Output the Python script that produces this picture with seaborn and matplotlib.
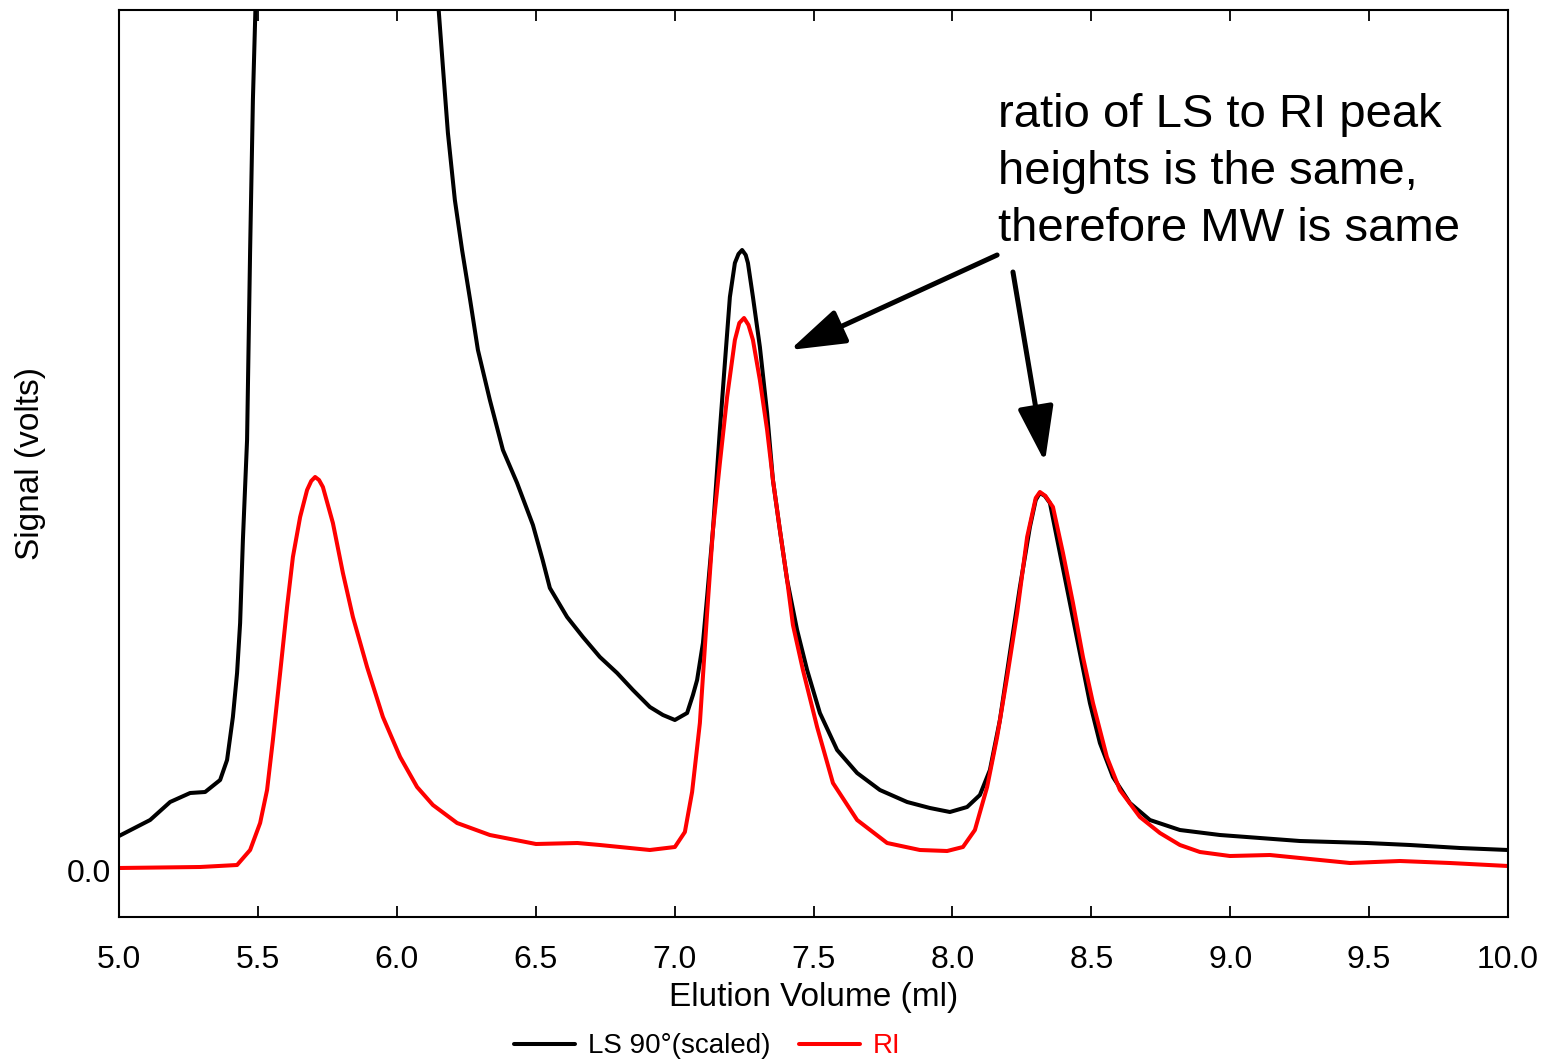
import matplotlib
matplotlib.use("Agg")
import matplotlib.pyplot as plt
from matplotlib.lines import Line2D
import seaborn as sns
import pandas as pd

# ---- data ----
ls_x = [5.000, 5.112, 5.184, 5.256, 5.310, 5.364, 5.389, 5.410, 5.425, 5.436,
        5.446, 5.461, 5.472, 5.482, 5.497, 5.600, 5.750, 5.950, 6.100, 6.140,
        6.166, 6.184, 6.209, 6.235, 6.264, 6.292, 6.335, 6.382, 6.433, 6.490,
        6.525, 6.551, 6.613, 6.670, 6.731, 6.793, 6.850, 6.911, 6.958, 7.001,
        7.045, 7.066, 7.081, 7.102, 7.117, 7.138, 7.163, 7.181, 7.199, 7.217,
        7.230, 7.243, 7.256, 7.264, 7.282, 7.307, 7.333, 7.354, 7.379, 7.405,
        7.441, 7.477, 7.523, 7.585, 7.657, 7.739, 7.837, 7.919, 7.991, 8.053,
        8.099, 8.135, 8.171, 8.207, 8.243, 8.279, 8.300, 8.315, 8.333, 8.351,
        8.387, 8.423, 8.459, 8.495, 8.531, 8.578, 8.639, 8.711, 8.819, 8.963,
        9.107, 9.251, 9.492, 9.647, 9.827, 10.000]
ls_y = [0.34, 0.50, 0.68, 0.77, 0.78, 0.90, 1.10, 1.53, 1.97, 2.47,
        3.30, 4.30, 6.20, 7.70, 9.20, 11.5, 12.5, 11.5, 9.8, 9.0,
        8.03, 7.37, 6.70, 6.20, 5.70, 5.20, 4.70, 4.20, 3.87, 3.45,
        3.10, 2.82, 2.53, 2.33, 2.13, 1.97, 1.80, 1.63, 1.55, 1.50,
        1.57, 1.75, 1.90, 2.27, 2.73, 3.40, 4.40, 5.07, 5.73, 6.07,
        6.16, 6.20, 6.15, 6.07, 5.73, 5.23, 4.57, 3.90, 3.40, 2.90,
        2.40, 2.00, 1.57, 1.20, 0.97, 0.80, 0.68, 0.62, 0.58, 0.63,
        0.75, 1.00, 1.50, 2.17, 2.83, 3.43, 3.70, 3.77, 3.74, 3.67,
        3.17, 2.67, 2.17, 1.67, 1.27, 0.93, 0.67, 0.50, 0.40, 0.35,
        0.32, 0.29, 0.27, 0.25, 0.22, 0.20]

ri_x = [5.000, 5.292, 5.425, 5.472, 5.508, 5.533, 5.554, 5.580, 5.605, 5.626,
        5.652, 5.677, 5.692, 5.706, 5.720, 5.734, 5.770, 5.806, 5.842, 5.893,
        5.950, 6.012, 6.073, 6.130, 6.217, 6.335, 6.501, 6.650, 6.731, 6.911,
        7.001, 7.037, 7.063, 7.091, 7.117, 7.138, 7.163, 7.189, 7.217, 7.233,
        7.250, 7.266, 7.282, 7.307, 7.333, 7.354, 7.379, 7.405, 7.426, 7.462,
        7.513, 7.570, 7.657, 7.765, 7.883, 7.981, 8.038, 8.081, 8.125, 8.161,
        8.197, 8.233, 8.269, 8.300, 8.315, 8.335, 8.362, 8.398, 8.434, 8.470,
        8.506, 8.556, 8.603, 8.675, 8.747, 8.819, 8.891, 8.999, 9.143, 9.251,
        9.431, 9.611, 9.791, 10.000]
ri_y = [0.02, 0.03, 0.05, 0.20, 0.47, 0.80, 1.30, 1.97, 2.63, 3.13,
        3.53, 3.80, 3.89, 3.93, 3.90, 3.83, 3.47, 2.97, 2.53, 2.03,
        1.53, 1.13, 0.83, 0.65, 0.47, 0.35, 0.26, 0.27, 0.25, 0.20,
        0.23, 0.38, 0.78, 1.47, 2.57, 3.40, 4.07, 4.73, 5.30, 5.47,
        5.52, 5.45, 5.30, 4.90, 4.40, 3.90, 3.40, 2.90, 2.45, 2.00,
        1.43, 0.87, 0.50, 0.27, 0.20, 0.19, 0.23, 0.40, 0.83, 1.33,
        1.93, 2.57, 3.33, 3.72, 3.78, 3.74, 3.63, 3.17, 2.67, 2.13,
        1.67, 1.13, 0.80, 0.53, 0.37, 0.25, 0.18, 0.14, 0.15, 0.12,
        0.07, 0.09, 0.07, 0.04]

x_ticks = [5.0, 5.5, 6.0, 6.5, 7.0, 7.5, 8.0, 8.5, 9.0, 9.5, 10.0]
x_tick_labels = ["5.0", "5.5", "6.0", "6.5", "7.0", "7.5", "8.0", "8.5", "9.0", "9.5", "10.0"]
series_names = ["LS 90°(scaled)", "RI"]
series_colors = ["#000000", "#ff0000"]
note_text = "ratio of LS to RI peak\nheights is the same,\ntherefore MW is same"

# ---- style ----
sns.set_theme(style="white")
plt.rcParams["font.family"] = ["Liberation Sans", "DejaVu Sans"]

fig = plt.figure(figsize=(15.48, 10.59), dpi=100)
ax = fig.add_axes([119 / 1548, 1 - 917 / 1059, (1508 - 119) / 1548, (917 - 10) / 1059])

df_ls = pd.DataFrame({"x": ls_x, "y": ls_y})
df_ri = pd.DataFrame({"x": ri_x, "y": ri_y})
sns.lineplot(data=df_ls, x="x", y="y", color=series_colors[0], lw=2.9,
             sort=False, estimator=None, ax=ax)
sns.lineplot(data=df_ri, x="x", y="y", color=series_colors[1], lw=2.9,
             sort=False, estimator=None, ax=ax)

ax.set_xlim(5.0, 10.0)
ax.set_ylim(-0.47, 8.60)
ax.set_xticks(x_ticks)
ax.set_xticklabels(x_tick_labels)
ax.set_yticks([0.0])
ax.set_yticklabels(["0.0"])
ax.tick_params(axis="x", direction="in", top=True, bottom=True, length=8,
               width=1.3, color="black", labelsize=23, pad=20, labelcolor="black")
ax.tick_params(axis="y", length=0, labelsize=23, pad=6, labelcolor="black")
for s in ax.spines.values():
    s.set_visible(True)
    s.set_color("black")
    s.set_linewidth(1.5)

ax.set_xlabel("Elution Volume (ml)", fontsize=24, labelpad=5, color="black")
ax.set_ylabel("Signal (volts)", fontsize=24, labelpad=15, color="black")

# annotation
ax.text(8.164, 7.77, note_text, fontsize=34, va="top", ha="left",
        linespacing=1.38, color="black")
arrow_style = "-|>,head_length=34,head_width=11"
ax.annotate("", xy=(7.415, 5.20), xytext=(8.161, 6.15),
            arrowprops=dict(arrowstyle=arrow_style, lw=3.6, color="black",
                            mutation_scale=1, shrinkA=0, shrinkB=0))
ax.annotate("", xy=(8.333, 4.08), xytext=(8.218, 5.98),
            arrowprops=dict(arrowstyle=arrow_style, lw=3.6, color="black",
                            mutation_scale=1, shrinkA=0, shrinkB=0))

handles = [Line2D([0], [0], color=c, lw=2.9) for c in series_colors]
leg = fig.legend(handles, series_names, loc="center", bbox_to_anchor=(0.457, 0.012),
                 ncol=2, frameon=False, fontsize=20, handlelength=2.2,
                 handletextpad=0.47, columnspacing=1.0)
for t, c in zip(leg.get_texts(), series_colors):
    t.set_color(c)

fig.savefig("out.png", dpi=100)
